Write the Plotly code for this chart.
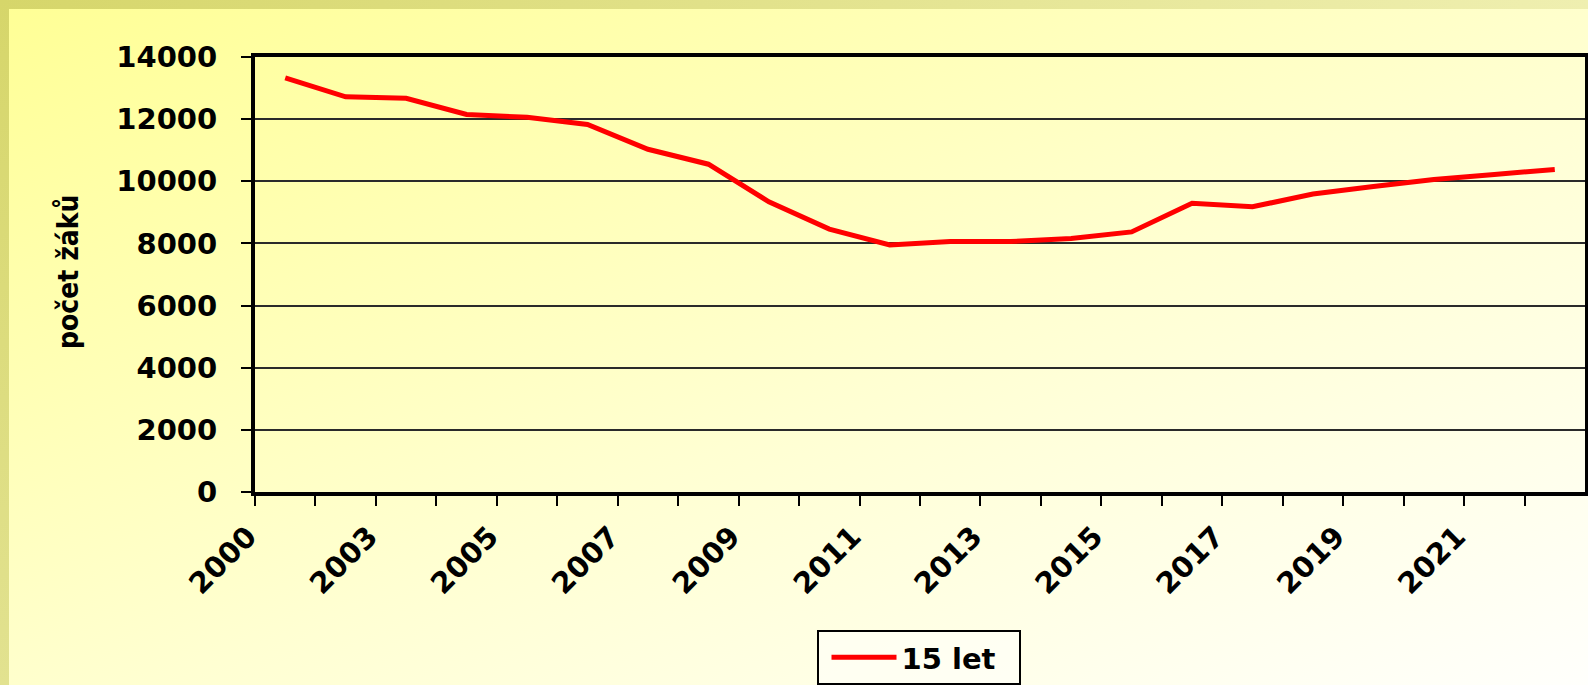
import base64
import plotly.graph_objects as go

# ---- data ----
years = ["2000", "2002", "2003", "2004", "2005", "2006", "2007", "2008", "2009", "2010",
         "2011", "2012", "2013", "2014", "2015", "2016", "2017", "2018", "2019", "2020",
         "2021", "2022"]
pupils_15 = [13330, 12720, 12670, 12150, 12060, 11830, 11030, 10550, 9340, 8460,
             7950, 8060, 8060, 8160, 8370, 9290, 9180, 9590, 9830, 10060,
             10220, 10380]
series_name = "15 let"
y_title = "počet žáků"
y_ticks = [0, 2000, 4000, 6000, 8000, 10000, 12000, 14000]
y_ticktext = [str(v) for v in y_ticks]

W, H = 1588, 685
L, R, T, B = 255, 3, 57, 193
pw, ph = W - L - R, H - T - B

# category positions (index-based); labels every 2 categories at the category boundaries
xpos = list(range(len(years)))
label_pos = [i - 0.5 for i in range(0, len(years), 2)]
label_text = [years[i] for i in range(0, len(years), 2)]
odd_bounds = [i - 0.5 for i in range(1, len(years) + 1, 2)]

# gradient background (SVG)
svg = f'''<svg xmlns="http://www.w3.org/2000/svg" width="{W}" height="{H}" viewBox="0 0 {W} {H}" preserveAspectRatio="none">
<defs>
<linearGradient id="o" x1="0" y1="0" x2="1" y2="0">
<stop offset="0" stop-color="#d6d66a"/><stop offset="1" stop-color="#efefb0"/></linearGradient>
<linearGradient id="o2" x1="0" y1="0" x2="0" y2="1">
<stop offset="0" stop-color="#d6d66a"/><stop offset="1" stop-color="#e2e290"/></linearGradient>
<linearGradient id="g" x1="0" y1="0" x2="1" y2="1">
<stop offset="0" stop-color="#ffff96"/><stop offset="0.55" stop-color="#ffffd2"/><stop offset="1" stop-color="#fffffc"/></linearGradient>
</defs>
<rect x="0" y="0" width="{W}" height="{H}" fill="url(#o)"/>
<rect x="0" y="0" width="9" height="{H}" fill="url(#o2)"/>
<rect x="9" y="9" width="{W-9}" height="{H-9}" fill="url(#g)"/>
</svg>'''
src = "data:image/svg+xml;base64," + base64.b64encode(svg.encode()).decode()

fig = go.Figure()
fig.add_trace(go.Scatter(
    x=xpos, y=pupils_15, mode="lines", name=series_name,
    line=dict(color="#ff0000", width=5), showlegend=True,
))

tickfont = dict(family="DejaVu Sans", size=29, color="black", weight="bold")

fig.update_layout(
    width=W, height=H,
    margin=dict(l=L, r=R, t=T, b=B, pad=0, autoexpand=False),
    paper_bgcolor="#fffff0",
    plot_bgcolor="rgba(0,0,0,0)",
    images=[dict(source=src, xref="paper", yref="paper",
                 x=-L / pw, y=1 + T / ph, sizex=W / pw, sizey=H / ph,
                 xanchor="left", yanchor="top", sizing="stretch", layer="below")],
    xaxis=dict(
        range=[-0.5, len(years) - 0.5], tickmode="array", tickvals=label_pos, ticktext=label_text,
        tickangle=-45, ticks="outside", ticklen=10, tickwidth=2, tickcolor="black",
        minor=dict(tickmode="array", tickvals=odd_bounds, ticks="outside", ticklen=10,
                   tickwidth=2, tickcolor="black", showgrid=False),
        showgrid=False, zeroline=False, showline=True, linecolor="black", linewidth=4,
        mirror=True, tickfont=tickfont, ticklabelstandoff=2, ticklabelshift=-7,
        automargin=False,
    ),
    yaxis=dict(
        range=[0, 14000], tickmode="array", tickvals=y_ticks, ticktext=y_ticktext,
        ticks="outside", ticklen=10, tickwidth=2, tickcolor="black",
        showgrid=True, gridcolor="#2a2a2a", gridwidth=1.6, zeroline=False,
        showline=True, linecolor="black", linewidth=4, mirror=True,
        tickfont=tickfont, ticklabelstandoff=18, automargin=False,
    ),
    legend=dict(
        orientation="h", xref="container", yref="container",
        x=918.5 / W, xanchor="center", y=1 - 630 / H, yanchor="top",
        bgcolor="rgba(255,255,250,0.6)", bordercolor="black", borderwidth=2,
        font=dict(family="DejaVu Sans", size=29, color="black", weight="bold"),
        itemwidth=65, entrywidth=112, indentation=8,
    ),
    annotations=[dict(
        text=y_title, textangle=-90, xref="paper", yref="paper",
        x=(68 - L) / pw, y=(492 - 272) / ph, xanchor="center", yanchor="middle",
        showarrow=False,
        font=dict(family="DejaVu Sans Condensed", size=28, color="black", weight="bold"),
    )],
)

fig.write_html("out.html", config={"displayModeBar": False},
               post_script="document.body.style.margin='0px';document.body.style.overflow='hidden';")
